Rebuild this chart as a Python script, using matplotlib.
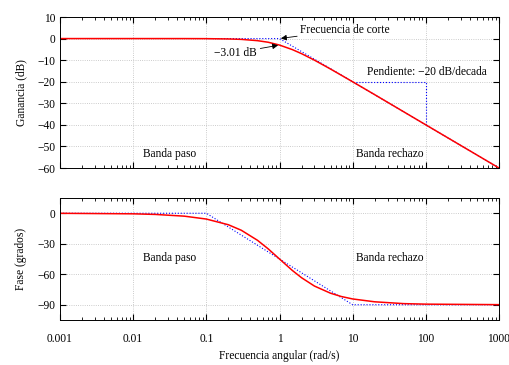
import matplotlib.pyplot as plt

plt.rcParams['font.family'] = ['Liberation Serif', 'DejaVu Serif']
plt.rcParams['font.size'] = 8.3

freq = [0.001, 0.01, 0.05, 0.1, 0.2, 0.3, 0.5, 0.7, 1, 1.5, 2, 3, 5, 7, 10, 20, 100, 1000]
gain = [0, 0, -0.01, -0.04, -0.17, -0.37, -0.97, -1.7, -3.01, -5.12, -6.99, -10.0,
        -14.15, -17.0, -20.04, -26.0, -40.0, -60.0]
phase_freq = [0.001, 0.01, 0.02, 0.05, 0.1, 0.2, 0.3, 0.5, 0.7, 1, 1.5, 2, 3, 5, 7,
              10, 20, 50, 100, 1000]
phase = [-0.06, -0.57, -1.15, -2.86, -5.71, -11.3, -16.7, -26.6, -35.0, -45.0, -56.3,
         -63.4, -71.6, -78.7, -81.9, -84.3, -87.1, -88.9, -89.4, -89.9]
gain_asym_f = [0.1, 1, 1000]
gain_asym = [0, 0, -60]
phase_asym_f = [0.001, 0.1, 10, 1000]
phase_asym = [0, 0, -90, -90]
slope_f = [10, 100, 100]
slope_g = [-20, -20, -40]

xticks = [0.001, 0.01, 0.1, 1, 10, 100, 1000]
xlabels = ['0.001', '0.01', '0.1', '1', '10', '100', '1000']

fig = plt.figure(figsize=(5.09, 3.65), dpi=100)
ax1 = fig.add_axes([60/509, 1-168/365, 439/509, 151/365])
ax2 = fig.add_axes([60/509, 1-320/365, 439/509, 122/365])

for ax in (ax1, ax2):
    ax.set_xscale('log')
    ax.set_xlim(0.001, 1000)
    ax.set_xticks(xticks)
    ax.grid(True, which='major', color='#bbbbbb', linestyle=':', linewidth=0.6)
    ax.tick_params(which='both', direction='in', top=True, right=True, length=4)
    ax.tick_params(which='minor', length=2)
    for s in ax.spines.values():
        s.set_linewidth(0.7)

# gain
ax1.plot(gain_asym_f, gain_asym, color='blue', linestyle=':', linewidth=0.8)
ax1.plot(slope_f, slope_g, color='blue', linestyle=':', linewidth=0.8)
ax1.plot(freq, gain, color='red', linewidth=1.1)
ax1.set_ylim(-60, 10)
ax1.set_yticks(range(-60, 11, 10))
ax1.set_xticklabels([])
ax1.set_ylabel('Ganancia (dB)', labelpad=7)
ax1.annotate('Frecuencia de corte', xy=(1, 0), xytext=(1.9, 4), va='center',
             arrowprops=dict(arrowstyle='-|>', color='black', lw=0.6, shrinkA=0, shrinkB=1))
ax1.annotate('\u22123.01 dB', xy=(1, -3), xytext=(0.48, -6.7), ha='right', va='center',
             arrowprops=dict(arrowstyle='-|>', color='black', lw=0.6, shrinkA=1, shrinkB=1))
ax1.text(103, -15.5, 'Pendiente: \u221220 dB/decada', ha='center', va='center')
ax1.text(0.0316, -53.5, 'Banda paso', ha='center', va='center')
ax1.text(32, -53.5, 'Banda rechazo', ha='center', va='center')

# phase
ax2.plot(phase_asym_f, phase_asym, color='blue', linestyle=':', linewidth=0.8)
ax2.plot(phase_freq, phase, color='red', linewidth=1.1)
ax2.set_ylim(-105, 15)
ax2.set_yticks([0, -30, -60, -90])
ax2.set_xticklabels(xlabels)
ax2.tick_params(axis='x', pad=9)
ax2.set_ylabel('Fase (grados)', labelpad=7)
ax2.set_xlabel('Frecuencia angular (rad/s)', labelpad=4)
ax2.text(0.0316, -44.5, 'Banda paso', ha='center', va='center')
ax2.text(32, -44.5, 'Banda rechazo', ha='center', va='center')

fig.savefig('out.png', dpi=100)
